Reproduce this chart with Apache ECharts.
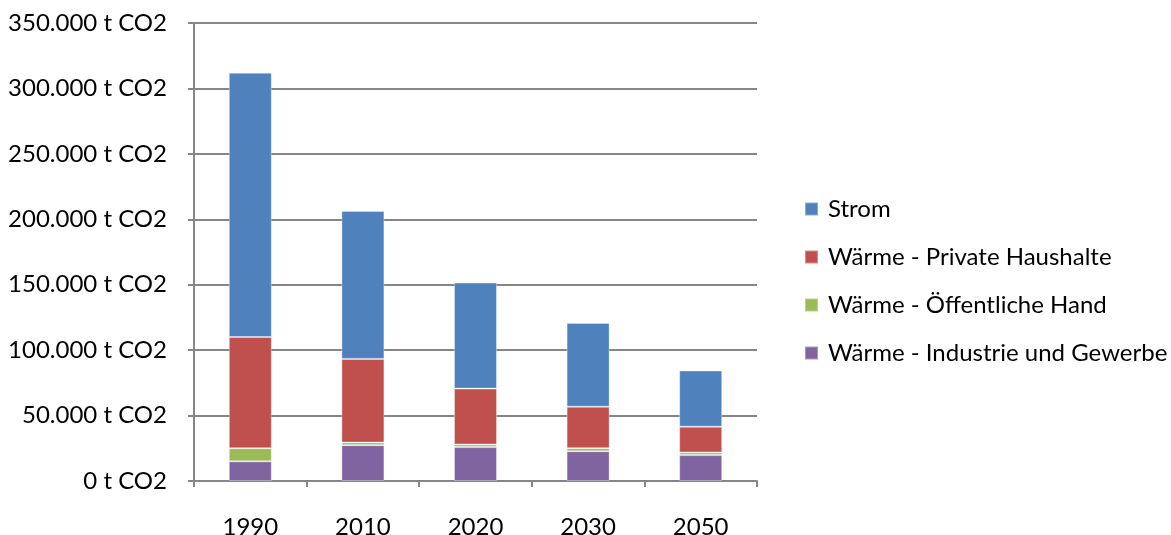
<!DOCTYPE html>
<html><head><meta charset="utf-8">
<script src="https://cdn.jsdelivr.net/npm/echarts@6/dist/echarts.min.js"></script>
<style>html,body{margin:0;padding:0;background:#fff}#c{width:1171px;height:535px}</style>
</head><body><div id="c"></div>
<script>
const categories = ['1990', '2010', '2020', '2030', '2050'];
const industrie = [15000, 27400, 25900, 22800, 19800];
const oeffentlich = [10000, 2000, 2000, 2300, 2000];
const privat = [85000, 63900, 42700, 31700, 19700];
const strom = [202000, 113000, 81000, 64000, 42900];
const seriesNames = ['Strom', 'Wärme - Private Haushalte', 'Wärme - Öffentliche Hand', 'Wärme - Industrie und Gewerbe'];
const yTicks = [0, 50000, 100000, 150000, 200000, 250000, 300000, 350000];

const font = 'Lato, "Open Sans", sans-serif';
function fmt(v) {
  return String(v).replace(/\B(?=(\d{3})+(?!\d))/g, '.') + ' t CO2';
}
const chart = echarts.init(document.getElementById('c'), null, {renderer: 'canvas'});
const mk = (name, data, color) => ({
  name, type: 'bar', stack: 'total', data, barWidth: 43,
  itemStyle: {color, borderColor: 'rgba(255,255,255,0.35)', borderWidth: 1},
  emphasis: {disabled: true}
});
chart.setOption({
  animation: false,
  textStyle: {fontFamily: font},
  grid: {left: 194, right: 414, top: 23, bottom: 54, containLabel: false, outerBoundsMode: 'none'},
  legend: {
    orient: 'vertical', left: 799, top: 192,
    data: seriesNames,
    icon: 'rect', itemWidth: 13, itemHeight: 13, itemGap: 24,
    textStyle: {fontSize: 24, color: '#000', fontFamily: font, padding: [0, 0, 0, 5]}
  },
  xAxis: {
    type: 'category', data: categories,
    axisLine: {lineStyle: {color: '#868686', width: 2}},
    axisTick: {show: true, length: 6, lineStyle: {color: '#868686', width: 2}},
    axisLabel: {fontSize: 24, color: '#000', margin: 34, fontFamily: font}
  },
  yAxis: {
    type: 'value', min: yTicks[0], max: yTicks[yTicks.length - 1], interval: 50000,
    axisLine: {show: true, lineStyle: {color: '#868686', width: 2}},
    axisTick: {show: true, length: 6, lineStyle: {color: '#868686', width: 2}},
    splitLine: {lineStyle: {color: '#868686', width: 2}},
    axisLabel: {fontSize: 24, color: '#000', margin: 27, formatter: fmt, fontFamily: font}
  },
  series: [
    mk('Wärme - Industrie und Gewerbe', industrie, '#8064A2'),
    mk('Wärme - Öffentliche Hand', oeffentlich, '#9BBB59'),
    mk('Wärme - Private Haushalte', privat, '#C0504D'),
    mk('Strom', strom, '#4F81BD')
  ]
});
</script></body></html>
